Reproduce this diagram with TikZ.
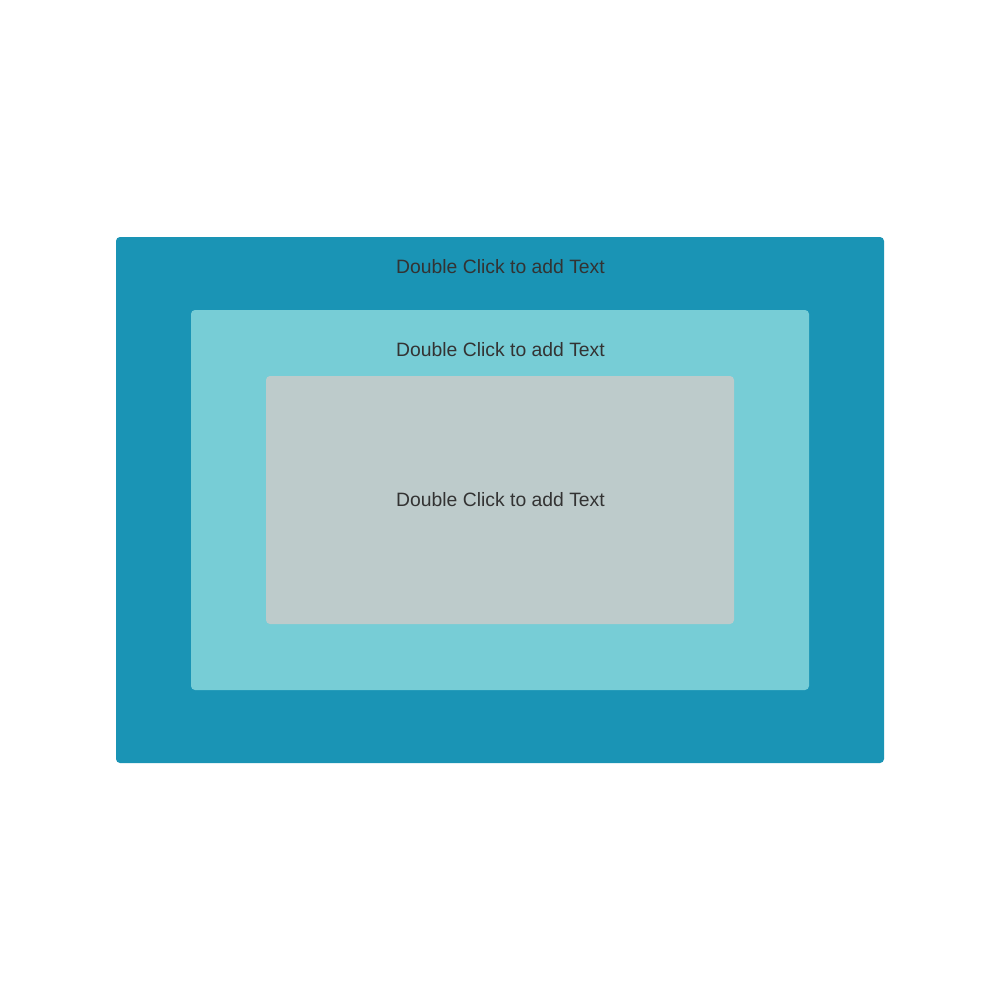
\documentclass[tikz,border=0pt]{standalone}
\usepackage{fontspec}
\setmainfont{Liberation Sans}
\definecolor{outerc}{HTML}{1A94B5}
\definecolor{midc}{HTML}{77CDD6}
\definecolor{innerc}{HTML}{BDCBCB}
\definecolor{txtc}{HTML}{333333}
\begin{document}
\begin{tikzpicture}[x=0.01cm,y=-0.01cm,
  panel/.style={rounded corners=0.04cm},
  lbl/.style={text=txtc,font=\fontsize{5.5}{6.6}\selectfont,inner sep=0pt}]
\useasboundingbox[fill=white] (0,0) rectangle (1000,1000);
\fill[outerc,panel] (116,237) rectangle (884,763);
\fill[midc,panel] (191,310) rectangle (809,690);
\fill[innerc,panel] (266,376) rectangle (734,624);
\node[lbl] (t1) at (500.5,267) {Double Click to add Text};
\node[lbl] (t2) at (500.5,350) {Double Click to add Text};
\node[lbl] (t3) at (500.5,500) {Double Click to add Text};
\end{tikzpicture}
\end{document}
